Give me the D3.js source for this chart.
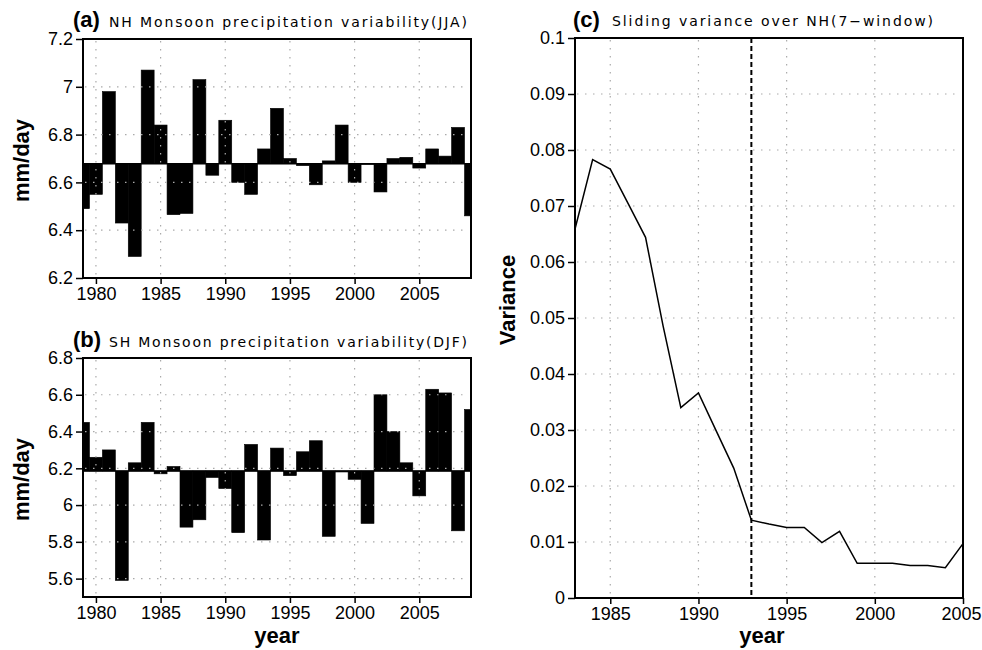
<!DOCTYPE html>
<head>
  <meta charset="utf-8">
  <script src="https://d3js.org/d3.v7.min.js"></script>
  <style>
    body { margin: 0; background: #fff; }
    text { font-family: "Liberation Sans", Arial, sans-serif; fill: #000; }
    .ttl { font-family: "DejaVu Sans", sans-serif; font-size: 14px; }
    .tag { font-size: 22px; font-weight: bold; }
    .lab { font-size: 22px; font-weight: bold; }
    .tick text { font-size: 18px; }
    .grid { stroke: #aaa; stroke-width: 1.2; stroke-dasharray: 1.5,6.5; }
  </style>
</head>
<body>
  <div id="chart"></div>
  <script>
    // years of the two monsoon series
    var years = [1979, 1980, 1981, 1982, 1983, 1984, 1985, 1986, 1987, 1988,
                 1989, 1990, 1991, 1992, 1993, 1994, 1995, 1996, 1997, 1998,
                 1999, 2000, 2001, 2002, 2003, 2004, 2005, 2006, 2007, 2008, 2009];
    // (a) NH JJA precipitation, mm/day
    var nhJJA = [6.49, 6.55, 6.98, 6.43, 6.29, 7.07, 6.84, 6.465, 6.47, 7.03,
                 6.63, 6.86, 6.60, 6.55, 6.74, 6.91, 6.70, 6.67, 6.59, 6.69,
                 6.84, 6.60, 6.675, 6.56, 6.70, 6.705, 6.66, 6.74, 6.71, 6.83, 6.46];
    // (b) SH DJF precipitation, mm/day
    var shDJF = [6.45, 6.26, 6.30, 5.59, 6.23, 6.45, 6.17, 6.21, 5.88, 5.92,
                 6.15, 6.09, 5.85, 6.33, 5.81, 6.31, 6.16, 6.29, 6.35, 5.83,
                 6.18, 6.14, 5.90, 6.60, 6.40, 6.23, 6.05, 6.63, 6.61, 5.86, 6.52];
    // (c) sliding variance, 7-year window
    var varYears = [1983, 1984, 1985, 1986, 1987, 1988, 1989, 1990, 1991, 1992,
                    1993, 1994, 1995, 1996, 1997, 1998, 1999, 2000, 2001, 2002,
                    2003, 2004, 2005];
    var slidingVar = [0.0659, 0.0783, 0.0766, 0.0705, 0.0644, 0.0485, 0.0340, 0.0366, 0.0299, 0.0232,
                      0.0139, 0.0132, 0.0126, 0.0126, 0.0099, 0.0119, 0.0062, 0.0062, 0.0062, 0.0058,
                      0.0058, 0.0054, 0.0097];
    var breakYear = 1993;

    var ticksA = [6.2, 6.4, 6.6, 6.8, 7.0, 7.2];
    var ticksB = [5.6, 5.8, 6.0, 6.2, 6.4, 6.6, 6.8];
    var ticksC = [0, 0.01, 0.02, 0.03, 0.04, 0.05, 0.06, 0.07, 0.08, 0.09, 0.1];
    var yearTicks = [1980, 1985, 1990, 1995, 2000, 2005];
    var varYearTicks = [1985, 1990, 1995, 2000, 2005];

    var svg = d3.select("#chart").append("svg")
      .attr("width", 982)
      .attr("height", 650);

    function fmt(n) { return function(d) { return String(+d.toFixed(n)) } }

    function frameAndAxes(g, x, y, xt, yt, n) {
      var x0 = x.range()[0], x1 = x.range()[1],
          y0 = y.range()[0], y1 = y.range()[1];

      g.append("rect")
        .attr("x", x0).attr("y", y1)
        .attr("width", x1 - x0).attr("height", y0 - y1)
        .attr("fill", "none").attr("stroke", "#000").attr("stroke-width", 2);

      // dotted grid (sits on top of the bars, like the original)
      g.append("g").selectAll("line")
        .data(yt.filter(function(d) { return y(d) > y1 + 1 && y(d) < y0 - 1 }))
        .enter().append("line").attr("class", "grid")
        .attr("x1", x0 + 2).attr("x2", x1 - 2)
        .attr("y1", function(d) { return y(d) }).attr("y2", function(d) { return y(d) });
      g.append("g").selectAll("line")
        .data(xt.filter(function(d) { return x(d) > x0 + 1 && x(d) < x1 - 1 }))
        .enter().append("line").attr("class", "grid")
        .attr("y1", y1 + 2).attr("y2", y0 - 2)
        .attr("x1", function(d) { return x(d) }).attr("x2", function(d) { return x(d) });

      var ya = g.append("g").attr("transform", "translate(" + x0 + ",0)")
        .call(d3.axisLeft(y).tickValues(yt).tickSize(7).tickPadding(3).tickFormat(fmt(n)));
      var xa = g.append("g").attr("transform", "translate(0," + y0 + ")")
        .call(d3.axisBottom(x).tickValues(xt).tickSize(6).tickPadding(3).tickFormat(d3.format("d")));
      [ya, xa].forEach(function(a) {
        a.select(".domain").remove();
        a.selectAll(".tick line").attr("stroke", "#000").attr("stroke-width", 1.5);
        a.attr("font-family", null).attr("font-size", null);
      });
      return xa;
    }

    function barPanel(values, yDom, yt, top, bottom, tag, title, titleY, id) {
      var g = svg.append("g");
      var x = d3.scaleLinear().domain([1979, 2009]).range([83, 471]);
      var y = d3.scaleLinear().domain(yDom).range([bottom, top]);
      var base = d3.mean(values);

      g.append("clipPath").attr("id", id)
        .append("rect").attr("x", 83).attr("y", top).attr("width", 388).attr("height", bottom - top);

      var data = years.map(function(yr, i) { return { year: yr, v: values[i] } });
      g.append("g").attr("clip-path", "url(#" + id + ")")
        .selectAll("rect").data(data)
        .enter().append("rect")
        .attr("x", function(d) { return x(d.year - 0.5) })
        .attr("width", function(d) { return x(d.year + 0.5) - x(d.year - 0.5) })
        .attr("y", function(d) { return y(Math.max(d.v, base)) })
        .attr("height", function(d) { return Math.abs(y(d.v) - y(base)) })
        .attr("fill", "#000")
        .attr("stroke", "#000")
        .attr("stroke-width", 0.6);

      g.append("line")
        .attr("x1", 83).attr("x2", 471)
        .attr("y1", y(base)).attr("y2", y(base))
        .attr("stroke", "#000").attr("stroke-width", 1.5);

      frameAndAxes(g, x, y, yearTicks, yt, 1);

      g.append("text").attr("class", "tag").attr("x", 73).attr("y", titleY).text(tag);
      g.append("text").attr("class", "ttl").attr("x", 109).attr("y", titleY)
        .attr("textLength", 358).attr("lengthAdjust", "spacing").text(title);
      g.append("text").attr("class", "lab")
        .attr("transform", "translate(29," + ((top + bottom) / 2 + 2) + ") rotate(-90)")
        .attr("text-anchor", "middle").text("mm/day");
    }

    barPanel(nhJJA, [6.2, 7.2], ticksA, 39, 278, "(a)", "NH Monsoon precipitation variability(JJA)", 27, "clipA");
    barPanel(shDJF, [5.5, 6.8], ticksB, 358, 597, "(b)", "SH Monsoon precipitation variability(DJF)", 347, "clipB");

    svg.append("text").attr("class", "lab").attr("x", 277).attr("y", 643)
      .attr("text-anchor", "middle").text("year");

    // panel (c)
    var gc = svg.append("g");
    var xc = d3.scaleLinear().domain([1983, 2005]).range([575, 963]);
    var yc = d3.scaleLinear().domain([0, 0.1]).range([598, 38]);

    var xaC = frameAndAxes(gc, xc, yc, varYearTicks, ticksC, 2);
    // keep the last year label inside the page
    xaC.selectAll(".tick text").filter(function(d) { return d === 2005 }).attr("dx", -2);

    gc.append("line")
      .attr("x1", xc(breakYear)).attr("x2", xc(breakYear))
      .attr("y1", yc(0.1)).attr("y2", yc(0))
      .attr("stroke", "#000").attr("stroke-width", 2).attr("stroke-dasharray", "5,3");

    var pts = varYears.map(function(yr, i) { return [yr, slidingVar[i]] });
    gc.append("path")
      .datum(pts)
      .attr("fill", "none")
      .attr("stroke", "#000")
      .attr("stroke-width", 1.5)
      .attr("d", d3.line().x(function(d) { return xc(d[0]) }).y(function(d) { return yc(d[1]) }));

    gc.append("text").attr("class", "tag").attr("x", 573).attr("y", 27).text("(c)");
    gc.append("text").attr("class", "ttl").attr("x", 612).attr("y", 26)
      .attr("textLength", 321).attr("lengthAdjust", "spacing").text("Sliding variance over NH(7\u2212window)");
    gc.append("text").attr("class", "lab")
      .attr("transform", "translate(515,300) rotate(-90)")
      .attr("text-anchor", "middle").text("Variance");
    gc.append("text").attr("class", "lab").attr("x", 762).attr("y", 643)
      .attr("text-anchor", "middle").text("year");
  </script>
</body>
